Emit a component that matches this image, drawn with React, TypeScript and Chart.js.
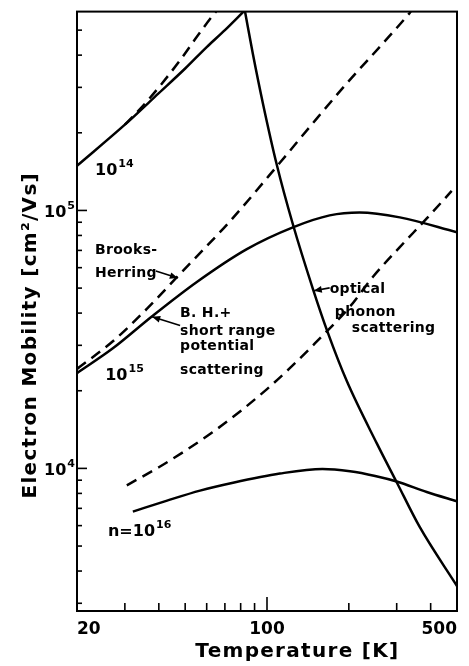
import React, { useEffect, useRef } from "react";
import { Chart, registerables } from "chart.js";

Chart.register(...registerables);

// ---- axes ----
const tempMin = 20;
const tempMax = 500;
const mobMin = 2800;
const mobMax = 5.9e5;

const xTickValues = [20, 30, 40, 50, 60, 70, 80, 90, 100, 200, 300, 400, 500];
const xMajorTicks = [100];
const xLabeledTicks = [20, 100, 500];

const yTickValues = [
  3000, 4000, 5000, 6000, 7000, 8000, 9000,
  10000, 20000, 30000, 40000, 50000, 60000, 70000, 80000, 90000,
  100000, 200000, 300000, 400000, 500000,
];
const yMajorTicks = [10000, 100000];
const yLabelValues = [10000, 100000];
const yLabelBase = ["10", "10"];
const yLabelExp = ["4", "5"];

// ---- series (T in K, mobility in cm^2/Vs) ----
const n14T = [20, 30, 40, 50, 60, 70, 82];
const n14Mu = [1.49e5, 2.15e5, 2.85e5, 3.55e5, 4.3e5, 5.0e5, 5.9e5];

const bh14T = [30, 36.2, 47.8, 55.2, 64.3, 65];
const bh14Mu = [2.15e5, 2.65e5, 3.81e5, 4.71e5, 5.83e5, 5.9e5];

const optT = [83, 88.7, 96.6, 108.7, 124.5, 147.5, 167.4, 196.6, 253.5, 300, 364.5, 500];
const optMu = [5.9e5, 4.05e5, 2.6e5, 1.5e5, 8.84e4, 4.97e4, 3.36e4, 2.18e4, 1.25e4, 8.84e3, 5.93e3, 3.5e3];

const n15T = [20, 27.1, 37.7, 55.2, 84.3, 124.5, 170, 219, 308, 500];
const n15Mu = [2.34e4, 2.92e4, 3.88e4, 5.28e4, 7.08e4, 8.6e4, 9.57e4, 9.82e4, 9.4e4, 8.23e4];

const bh15T = [20, 27.1, 36.2, 47.8, 73, 111.5, 147.5, 196.6, 260, 335, 338];
const bh15Mu = [2.43e4, 3.11e4, 4.16e4, 5.67e4, 9.07e4, 1.53e5, 2.18e5, 3.11e5, 4.31e5, 5.83e5, 5.9e5];

const bh16T = [30.5, 40, 50, 63, 80, 100, 120, 150, 202, 245, 308, 387, 478];
const bh16Mu = [8.6e3, 1.01e4, 1.17e4, 1.38e4, 1.67e4, 2.03e4, 2.42e4, 3.05e4, 4.24e4, 5.52e4, 7.21e4, 9.31e4, 1.19e5];

const n16T = [32.1, 42.9, 56.7, 75, 111.5, 160, 202, 250, 300, 387, 500];
const n16Mu = [6.8e3, 7.5e3, 8.2e3, 8.8e3, 9.55e3, 9.95e3, 9.75e3, 9.35e3, 8.9e3, 8.1e3, 7.45e3];

// ---- annotations ----
const noteTexts = ["Brooks-", "Herring", "B. H.+", "short range", "potential", "scattering", "optical", "phonon", "scattering"];
const noteT = [23.3, 23.3, 47.9, 47.9, 47.9, 47.9, 170, 177.7, 205];
const noteMu = [6.78e4, 5.52e4, 3.87e4, 3.3e4, 2.89e4, 2.32e4, 4.8e4, 3.91e4, 3.37e4];

const concBase = ["10", "10", "n=10"];
const concExp = ["14", "15", "16"];
const concT = [23.3, 25.4, 26.0];
const concMu = [1.37e5, 2.2e4, 5.47e3];

const arrowFromT = [39.0, 47.9, 170];
const arrowFromMu = [5.82e4, 3.58e4, 5.01e4];
const arrowToT = [47.0, 37.8, 148.6];
const arrowToMu = [5.47e4, 3.87e4, 4.88e4];

const xTitle = "Temperature [K]";
const yTitle = "Electron Mobility [cm²/Vs]";

const FONT = '"DejaVu Sans"';

function series(T: number[], M: number[], dashed: boolean) {
  return {
    data: T.map((t, i) => ({ x: t, y: M[i] })),
    borderColor: "#000",
    borderWidth: 2.5,
    borderDash: dashed ? [11, 7] : [],
    pointRadius: 0,
    fill: false,
    cubicInterpolationMode: "monotone" as const,
  };
}

const overlay = {
  id: "overlay",
  afterDraw(chart: any) {
    const { ctx, chartArea: a, scales } = chart;
    const xs = scales.x;
    const ys = scales.y;
    const P = (t: number, m: number) => [xs.getPixelForValue(t), ys.getPixelForValue(m)];
    ctx.save();
    ctx.strokeStyle = "#000";
    ctx.fillStyle = "#000";
    ctx.lineWidth = 2;
    ctx.setLineDash([]);
    ctx.strokeRect(a.left, a.top, a.right - a.left, a.bottom - a.top);

    // inward ticks
    ctx.lineWidth = 1.6;
    xTickValues.forEach((v) => {
      const px = xs.getPixelForValue(v);
      const len = xMajorTicks.includes(v) ? 14 : 8;
      ctx.beginPath();
      ctx.moveTo(px, a.bottom);
      ctx.lineTo(px, a.bottom - len);
      ctx.stroke();
    });
    yTickValues.forEach((v) => {
      const py = ys.getPixelForValue(v);
      const len = yMajorTicks.includes(v) ? 10 : 5;
      ctx.beginPath();
      ctx.moveTo(a.left, py);
      ctx.lineTo(a.left + len, py);
      ctx.stroke();
    });

    // y tick labels with superscript exponents
    ctx.textBaseline = "alphabetic";
    ctx.textAlign = "left";
    yLabelValues.forEach((v, i) => {
      const py = ys.getPixelForValue(v);
      ctx.font = `bold 11px ${FONT}`;
      const we = ctx.measureText(yLabelExp[i]).width;
      ctx.font = `bold 16px ${FONT}`;
      const wb = ctx.measureText(yLabelBase[i]).width;
      const x0 = a.left - 2 - we - 1 - wb;
      ctx.fillText(yLabelBase[i], x0, py + 7);
      ctx.font = `bold 11px ${FONT}`;
      ctx.fillText(yLabelExp[i], x0 + wb + 1, py - 1);
    });

    // notes
    (ctx as any).letterSpacing = "0.3px";
    ctx.font = `bold 14px ${FONT}`;
    noteTexts.forEach((s, i) => {
      const [px, py] = P(noteT[i], noteMu[i]);
      ctx.fillText(s, px, py);
    });

    // concentration labels
    (ctx as any).letterSpacing = "0px";
    concBase.forEach((b, i) => {
      const [px, py] = P(concT[i], concMu[i]);
      ctx.font = `bold 16px ${FONT}`;
      ctx.fillText(b, px, py);
      const w = ctx.measureText(b).width;
      ctx.font = `bold 11px ${FONT}`;
      ctx.fillText(concExp[i], px + w + 1, py - 8);
    });

    // arrows
    ctx.lineWidth = 1.6;
    arrowFromT.forEach((t, i) => {
      const [x0, y0] = P(t, arrowFromMu[i]);
      const [x1, y1] = P(arrowToT[i], arrowToMu[i]);
      const ang = Math.atan2(y1 - y0, x1 - x0);
      ctx.beginPath();
      ctx.moveTo(x0, y0);
      ctx.lineTo(x1, y1);
      ctx.stroke();
      const L = 8, W = 3.4;
      ctx.beginPath();
      ctx.moveTo(x1, y1);
      ctx.lineTo(x1 - L * Math.cos(ang) + W * Math.sin(ang), y1 - L * Math.sin(ang) - W * Math.cos(ang));
      ctx.lineTo(x1 - L * Math.cos(ang) - W * Math.sin(ang), y1 - L * Math.sin(ang) + W * Math.cos(ang));
      ctx.closePath();
      ctx.fill();
    });

    // axis titles
    (ctx as any).letterSpacing = "1.3px";
    ctx.font = `bold 20px ${FONT}`;
    ctx.textAlign = "center";
    ctx.fillText(xTitle, a.left + (a.right - a.left) * 0.58, chart.height - 9);
    ctx.translate(36, a.top + (a.bottom - a.top) * 0.54);
    ctx.rotate(-Math.PI / 2);
    ctx.fillText(yTitle, 0, 0);
    ctx.restore();
  },
};

export default function App() {
  const ref = useRef<HTMLCanvasElement>(null);
  useEffect(() => {
    document.body.style.margin = "0";
    const chart = new Chart(ref.current as HTMLCanvasElement, {
      type: "line",
      data: {
        datasets: [
          series(n14T, n14Mu, false),
          series(bh14T, bh14Mu, true),
          series(optT, optMu, false),
          series(n15T, n15Mu, false),
          series(bh15T, bh15Mu, true),
          series(bh16T, bh16Mu, true),
          series(n16T, n16Mu, false),
        ] as any,
      },
      options: {
        animation: false,
        responsive: true,
        maintainAspectRatio: false,
        layout: { padding: { top: 7, right: 12, left: 0, bottom: 0 } },
        plugins: { legend: { display: false }, tooltip: { enabled: false } },
        scales: {
          x: {
            type: "logarithmic",
            min: tempMin,
            max: tempMax,
            grid: { display: false },
            border: { display: false },
            afterBuildTicks: (s: any) => {
              s.ticks = xTickValues.map((v) => ({ value: v }));
            },
            afterFit: (s: any) => {
              s.height = 55;
            },
            ticks: {
              align: "inner",
              autoSkip: false,
              maxRotation: 0,
              padding: 0,
              color: "#000",
              font: { family: FONT, size: 17, weight: "bold" },
              callback: (v: any) => (xLabeledTicks.includes(Number(v)) ? String(v) : ""),
            },
          } as any,
          y: {
            type: "logarithmic",
            min: mobMin,
            max: mobMax,
            grid: { display: false },
            border: { display: false },
            afterBuildTicks: (s: any) => {
              s.ticks = yTickValues.map((v) => ({ value: v }));
            },
            afterFit: (s: any) => {
              s.width = 77;
            },
            ticks: {
              autoSkip: false,
              padding: 2,
              color: "#000",
              font: { family: FONT, size: 16, weight: "bold" },
              callback: () => "",
            },
          } as any,
        },
      },
      plugins: [overlay],
    });
    return () => chart.destroy();
  }, []);
  return (
    <div style={{ width: 469, height: 666, position: "relative" }}>
      <canvas ref={ref} />
    </div>
  );
}
